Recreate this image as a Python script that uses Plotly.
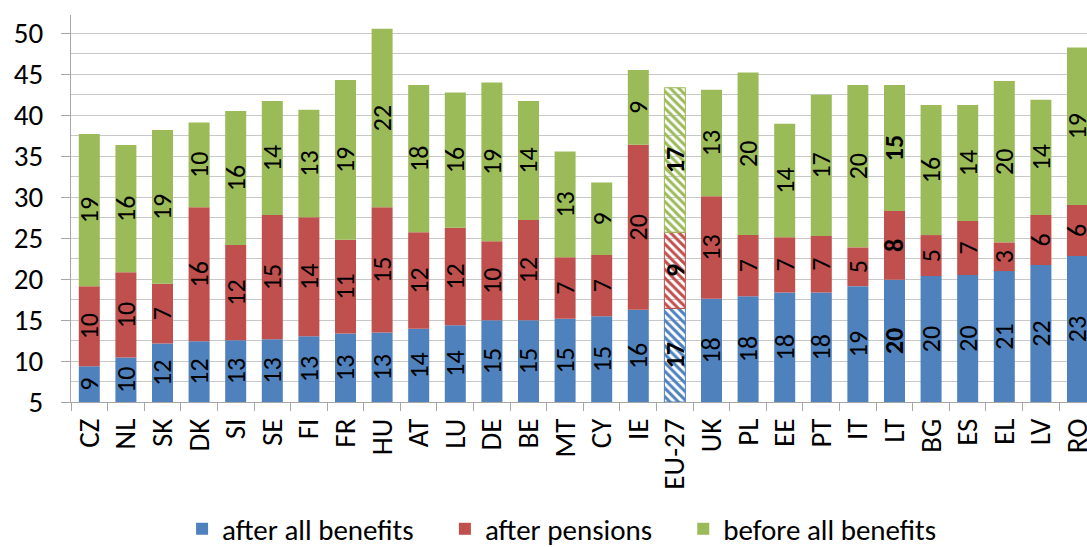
import plotly.graph_objects as go

countries = ["CZ", "NL", "SK", "DK", "SI", "SE", "FI", "FR", "HU", "AT", "LU", "DE", "BE", "MT",
             "CY", "IE", "EU-27", "UK", "PL", "EE", "PT", "IT", "LT", "BG", "ES", "EL", "LV", "RO"]

# cumulative levels (bar tops)
after_all_benefits = [9.36, 10.42, 12.13, 12.42, 12.54, 12.66, 13.03, 13.36, 13.48, 13.92, 14.37, 14.98,
                      14.98, 15.14, 15.47, 16.24, 16.41, 17.58, 17.91, 18.36, 18.36, 19.13, 19.9, 20.36,
                      20.48, 20.97, 21.7, 22.8]
after_pensions = [19.13, 20.81, 19.42, 28.75, 24.14, 27.81, 27.53, 24.79, 28.75, 25.69, 26.25, 24.6,
                  27.2, 22.64, 22.92, 36.36, 25.69, 30.09, 25.36, 25.08, 25.24, 23.86, 28.3, 25.36,
                  27.08, 24.47, 27.81, 29.03]
before_all_benefits = [37.7, 36.33, 38.16, 39.09, 40.48, 41.7, 40.64, 44.26, 50.53, 43.66, 42.76, 43.97,
                       41.7, 35.55, 31.76, 45.49, 43.33, 43.09, 45.2, 38.93, 42.47, 43.66, 43.66, 41.21,
                       41.21, 44.14, 41.86, 48.25]

# printed segment labels
lab_after_all = [9, 10, 12, 12, 13, 13, 13, 13, 13, 14, 14, 15, 15, 15, 15, 16, 17, 18, 18, 18, 18, 19,
                 20, 20, 20, 21, 22, 23]
lab_pensions = [10, 10, 7, 16, 12, 15, 14, 11, 15, 12, 12, 10, 12, 7, 7, 20, 9, 13, 7, 7, 7, 5, 8, 5, 7,
                3, 6, 6]
lab_before = [19, 16, 19, 10, 16, 14, 13, 19, 22, 18, 16, 19, 14, 13, 9, 9, 17, 13, 20, 14, 17, 20, 15,
              16, 14, 20, 14, 19]

series_names = ["after all benefits", "after pensions", "before all benefits"]

bold_cats = ["EU-27", "LT"]
hatched_cat = "EU-27"
AXIS_MIN = 5

BLUE = "#4F81BD"
RED = "#C0504D"
GREEN = "#9BBB59"
FONT = "Carlito, Lato, sans-serif"
PAD = "\u00a0" * 4  # extra gap between legend entries

def texts(labels):
    return [f"<b>{v}</b>" if c in bold_cats else str(v) for c, v in zip(countries, labels)]

def seg_style(color):
    shapes = ["\\" if c == hatched_cat else "" for c in countries]
    lw = [1 if c == hatched_cat else 0 for c in countries]
    return dict(
        color=[color] * len(countries),
        line=dict(color=color, width=lw),
        pattern=dict(shape=shapes, fgcolor=[color] * len(countries),
                     bgcolor=["white"] * len(countries), fillmode="replace",
                     size=6, solidity=0.5),
    )

base_blue = [AXIS_MIN] * len(countries)
seg_blue = [v - AXIS_MIN for v in after_all_benefits]
seg_red = [p - a for p, a in zip(after_pensions, after_all_benefits)]
seg_green = [b - p for b, p in zip(before_all_benefits, after_pensions)]

fig = go.Figure()
series = [
    (series_names[0] + PAD, base_blue, seg_blue, lab_after_all, BLUE),
    (series_names[1] + PAD, after_all_benefits, seg_red, lab_pensions, RED),
    (series_names[2], after_pensions, seg_green, lab_before, GREEN),
]
for name, base, seg, labs, col in series:
    fig.add_trace(go.Bar(
        x=countries, y=seg, base=base, name=name,
        marker=seg_style(col),
        text=texts(labs), textposition="inside", textangle=-90,
        insidetextanchor="middle", constraintext="none",
        textfont=dict(family=FONT, size=26, color="black"),
        hoverinfo="skip",
    ))

fig.update_layout(
    width=1087, height=547,
    margin=dict(l=71, r=0, t=15, b=145, autoexpand=False),
    barmode="overlay", bargap=0.426,
    plot_bgcolor="white", paper_bgcolor="white",
    font=dict(family=FONT, color="black"),
    showlegend=True,
    legend=dict(orientation="h", xref="container", yref="paper", x=0.1675, xanchor="left",
                y=-0.328, yanchor="middle", font=dict(size=29, family=FONT), itemwidth=30,
                traceorder="normal"),
    xaxis=dict(
        type="category", range=[-0.5, 27.26], automargin=False,
        showline=True, linecolor="#A6A6A6", linewidth=1,
        ticks="outside", tickson="boundaries", ticklen=8, tickcolor="#A6A6A6",
        tickangle=-90, tickfont=dict(size=29, family=FONT), ticklabelstandoff=4,
        showgrid=False,
    ),
    yaxis=dict(
        range=[AXIS_MIN, 52.2], dtick=5, tick0=0, automargin=False,
        showline=True, linecolor="#A6A6A6", linewidth=1,
        ticks="outside", ticklen=9, tickcolor="#A6A6A6",
        tickfont=dict(size=29, family=FONT), ticklabelstandoff=12,
        showgrid=True, gridcolor="#C8C8C8", gridwidth=1,
        minor=dict(dtick=2.5, tick0=0, showgrid=True, gridcolor="#C8C8C8", gridwidth=1),
        zeroline=False,
    ),
)

fig.write_html(
    "out.html",
    config={"displayModeBar": False},
    post_script="document.body.style.margin='0px'; document.body.style.overflow='hidden';",
)
